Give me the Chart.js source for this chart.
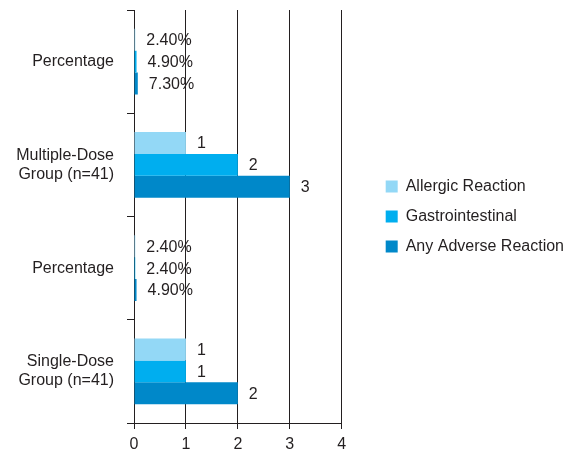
<!DOCTYPE html>
<html>
<head>
<meta charset="utf-8">
<script src="https://cdn.jsdelivr.net/npm/chart.js@4/dist/chart.umd.min.js"></script>
<style>
  html, body { margin: 0; padding: 0; background: #fff; }
  #wrap { width: 579px; height: 453px; }
</style>
</head>
<body>
<div id="wrap"><canvas id="reactionsChart" width="579" height="453"></canvas></div>
<script>
const categories = ['Percentage', ['Multiple-Dose', 'Group (n=41)'], 'Percentage', ['Single-Dose', 'Group (n=41)']];
const allergic = [0.024, 1, 0.024, 1];
const gastro = [0.049, 2, 0.024, 1];
const anyAdverse = [0.073, 3, 0.049, 2];
const xTicks = [0, 1, 2, 3, 4];

const ink = '#231f20';
const font = { family: '"Liberation Sans", Arial, sans-serif', size: 16 };

// percentage rows show their values as percents, the group rows as counts
function formatValue(index, value) {
    if (categories[index] === 'Percentage') {
        return (value * 100).toFixed(2) + '%';
    }
    return String(value);
}

const valueLabels = {
    id: 'valueLabels',
    afterDatasetsDraw(chart) {
        const ctx = chart.ctx;
        ctx.save();
        ctx.font = '16px ' + font.family;
        ctx.fillStyle = ink;
        ctx.textAlign = 'left';
        ctx.textBaseline = 'middle';
        chart.data.datasets.forEach((ds, i) => {
            chart.getDatasetMeta(i).data.forEach((bar, j) => {
                ctx.fillText(formatValue(j, ds.data[j]), bar.x + 11, bar.y + 1);
            });
        });
        ctx.restore();
    }
};

new Chart(document.getElementById('reactionsChart'), {
    type: 'bar',
    data: {
        labels: categories,
        datasets: [
            { label: 'Allergic Reaction', data: allergic, backgroundColor: '#93d8f6', borderWidth: 0 },
            { label: 'Gastrointestinal', data: gastro, backgroundColor: '#00aeef', borderWidth: 0 },
            { label: 'Any Adverse Reaction', data: anyAdverse, backgroundColor: '#0088c9', borderWidth: 0 }
        ]
    },
    options: {
        indexAxis: 'y',
        responsive: false,
        animation: false,
        layout: { padding: { top: 10, left: 0, right: 5, bottom: 0 } },
        datasets: {
            bar: { barPercentage: 1, categoryPercentage: 0.635 }
        },
        scales: {
            x: {
                min: 0,
                max: 4,
                afterBuildTicks: scale => { scale.ticks = xTicks.map(v => ({ value: v })); },
                afterFit: scale => { scale.height = 30; },
                grid: { color: ink, lineWidth: 1, tickLength: 6, drawTicks: true },
                border: { display: true, color: ink, width: 1 },
                ticks: { color: ink, font: font, padding: 6, maxRotation: 0 }
            },
            y: {
                afterFit: scale => {
                    scale.width = 134;
                    scale.paddingTop = 0;
                    scale.paddingBottom = 0;
                },
                grid: { drawOnChartArea: false, color: ink, tickLength: 7, offset: true },
                border: { display: true, color: ink, width: 1 },
                ticks: { color: ink, font: font, padding: 13 }
            },
            // empty axis that keeps room between the plot and the legend
            gap: {
                type: 'linear',
                position: 'right',
                display: true,
                grid: { display: false },
                border: { display: false },
                ticks: { display: false },
                afterFit: scale => {
                    scale.width = 30;
                    scale.paddingTop = 0;
                    scale.paddingBottom = 0;
                }
            }
        },
        plugins: {
            legend: {
                position: 'right',
                fullSize: false,
                maxWidth: 260,
                labels: {
                    color: ink,
                    font: font,
                    boxWidth: 12,
                    boxHeight: 12,
                    padding: 14
                }
            },
            tooltip: { enabled: false }
        }
    },
    plugins: [valueLabels]
});
</script>
</body>
</html>
